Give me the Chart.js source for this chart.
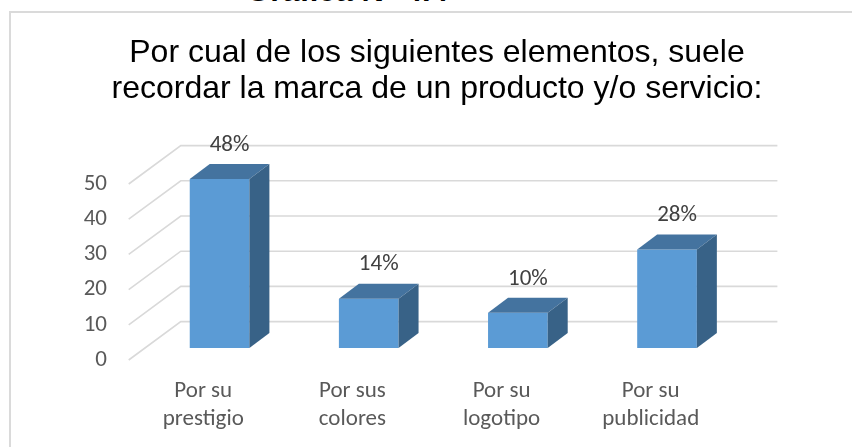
<!DOCTYPE html>
<html>
<head>
<meta charset="utf-8">
<script src="https://cdn.jsdelivr.net/npm/chart.js@4.4.1/dist/chart.umd.min.js"></script>
<style>
  html, body { margin: 0; padding: 0; background: #ffffff; }
  body { width: 852px; height: 447px; overflow: hidden; position: relative; }
  #heading {
    position: absolute; left: 147px; width: 400px; top: -25px;
    text-align: center; white-space: nowrap; color: #000;
    font: bold 31px/31px "Liberation Sans", Arial, sans-serif;
  }
  #frame {
    position: absolute; left: 9px; top: 11px; right: -10px; bottom: -10px;
    border-left: 2px solid #dadada; border-top: 2px solid #dadada;
  }
  #wrap { position: absolute; left: 0; top: 0; width: 852px; height: 447px; }
</style>
</head>
<body>
<div id="heading">Gráfica N° 4.4</div>
<div id="frame"></div>
<div id="wrap"><canvas id="chart" width="852" height="447"></canvas></div>
<script>
// Survey answers: which element helps people remember a brand
const categories = [
  ['Por su', 'prestigio'],
  ['Por sus', 'colores'],
  ['Por su', 'logotipo'],
  ['Por su', 'publicidad']
];
const values = [48, 14, 10, 28];
const yTickValues = [0, 10, 20, 30, 40, 50];
const titleLines = [
  'Por cual de los siguientes elementos, suele',
  'recordar la marca de un producto y/o servicio:'
];

// Oblique offsets used to fake the 3-D column look
const BAR_DEPTH = { dx: 20, dy: -15 };
const WALL_BACK = { dx: 35.8, dy: -26.4 };
const FLOOR_FRONT = { dx: -16.3, dy: 12 };

const labelFamily = 'Calibri, Carlito, Lato, sans-serif';

const columns3d = {
  id: 'columns3d',
  beforeDatasetsDraw(chart) {
    const { ctx, chartArea, scales: { y } } = chart;
    ctx.save();
    ctx.strokeStyle = '#d9d9d9';
    ctx.lineWidth = 1.6;
    for (const v of yTickValues) {
      const py = y.getPixelForValue(v);
      ctx.beginPath();
      ctx.moveTo(chartArea.left + FLOOR_FRONT.dx, py + FLOOR_FRONT.dy);
      ctx.lineTo(chartArea.left + WALL_BACK.dx, py + WALL_BACK.dy);
      ctx.lineTo(chartArea.right + WALL_BACK.dx, py + WALL_BACK.dy);
      ctx.stroke();
    }
    ctx.restore();
  },
  afterDatasetsDraw(chart) {
    const { ctx } = chart;
    const meta = chart.getDatasetMeta(0);
    const { dx, dy } = BAR_DEPTH;
    ctx.save();
    meta.data.forEach((bar, i) => {
      const { x, y, base, width } = bar.getProps(['x', 'y', 'base', 'width'], true);
      const l = x - width / 2, r = x + width / 2;
      // top face
      ctx.fillStyle = '#44739f';
      ctx.beginPath();
      ctx.moveTo(l, y);
      ctx.lineTo(l + dx, y + dy);
      ctx.lineTo(r + dx, y + dy);
      ctx.lineTo(r, y);
      ctx.closePath();
      ctx.fill();
      // right side face
      ctx.fillStyle = '#386287';
      ctx.beginPath();
      ctx.moveTo(r, y);
      ctx.lineTo(r + dx, y + dy);
      ctx.lineTo(r + dx, base + dy);
      ctx.lineTo(r, base);
      ctx.closePath();
      ctx.fill();
      // value label
      ctx.fillStyle = '#404040';
      ctx.font = '23px ' + labelFamily;
      ctx.textAlign = 'center';
      ctx.textBaseline = 'middle';
      ctx.fillText(values[i] + '%', x + dx / 2, y + dy - 19);
    });
    ctx.restore();
  }
};

new Chart(document.getElementById('chart'), {
  type: 'bar',
  data: {
    labels: categories,
    datasets: [{
      data: values,
      yAxisID: 'y',
      backgroundColor: '#5b9bd5',
      borderWidth: 0,
      barPercentage: 0.4,
      categoryPercentage: 1.0
    }]
  },
  options: {
    responsive: false,
    animation: false,
    devicePixelRatio: 1,
    layout: { padding: { left: 22, right: 0, top: 12, bottom: 0 } },
    plugins: {
      legend: { display: false },
      tooltip: { enabled: false },
      title: {
        display: true,
        text: titleLines,
        color: '#000000',
        font: { family: '"Liberation Sans", Arial, sans-serif', size: 32, weight: 'normal', lineHeight: 1.125 },
        padding: { top: 23, bottom: 65 }
      }
    },
    scales: {
      x: {
        grid: { display: false, drawTicks: false },
        border: { display: false },
        ticks: {
          color: '#595959',
          font: { family: labelFamily, size: 23, lineHeight: 1.22 },
          padding: 29.5,
          labelOffset: FLOOR_FRONT.dx,
          maxRotation: 0,
          autoSkip: false
        },
        afterFit(scale) { scale.height = 99; }
      },
      y: {
        min: 0,
        max: 50,
        grid: { display: false, drawTicks: false },
        border: { display: false },
        ticks: {
          stepSize: 10,
          color: '#595959',
          font: { family: labelFamily, size: 23 },
          padding: 38,
          labelOffset: FLOOR_FRONT.dy
        },
        afterFit(scale) { scale.width = 123; }
      },
      // empty band on the right, keeps room for the receding back wall
      spacer: {
        type: 'linear',
        position: 'right',
        min: 0,
        max: 50,
        grid: { display: false, drawTicks: false },
        border: { display: false },
        ticks: { display: false },
        afterFit(scale) { scale.width = 110.4; }
      }
    }
  },
  plugins: [columns3d]
});
</script>
</body>
</html>
